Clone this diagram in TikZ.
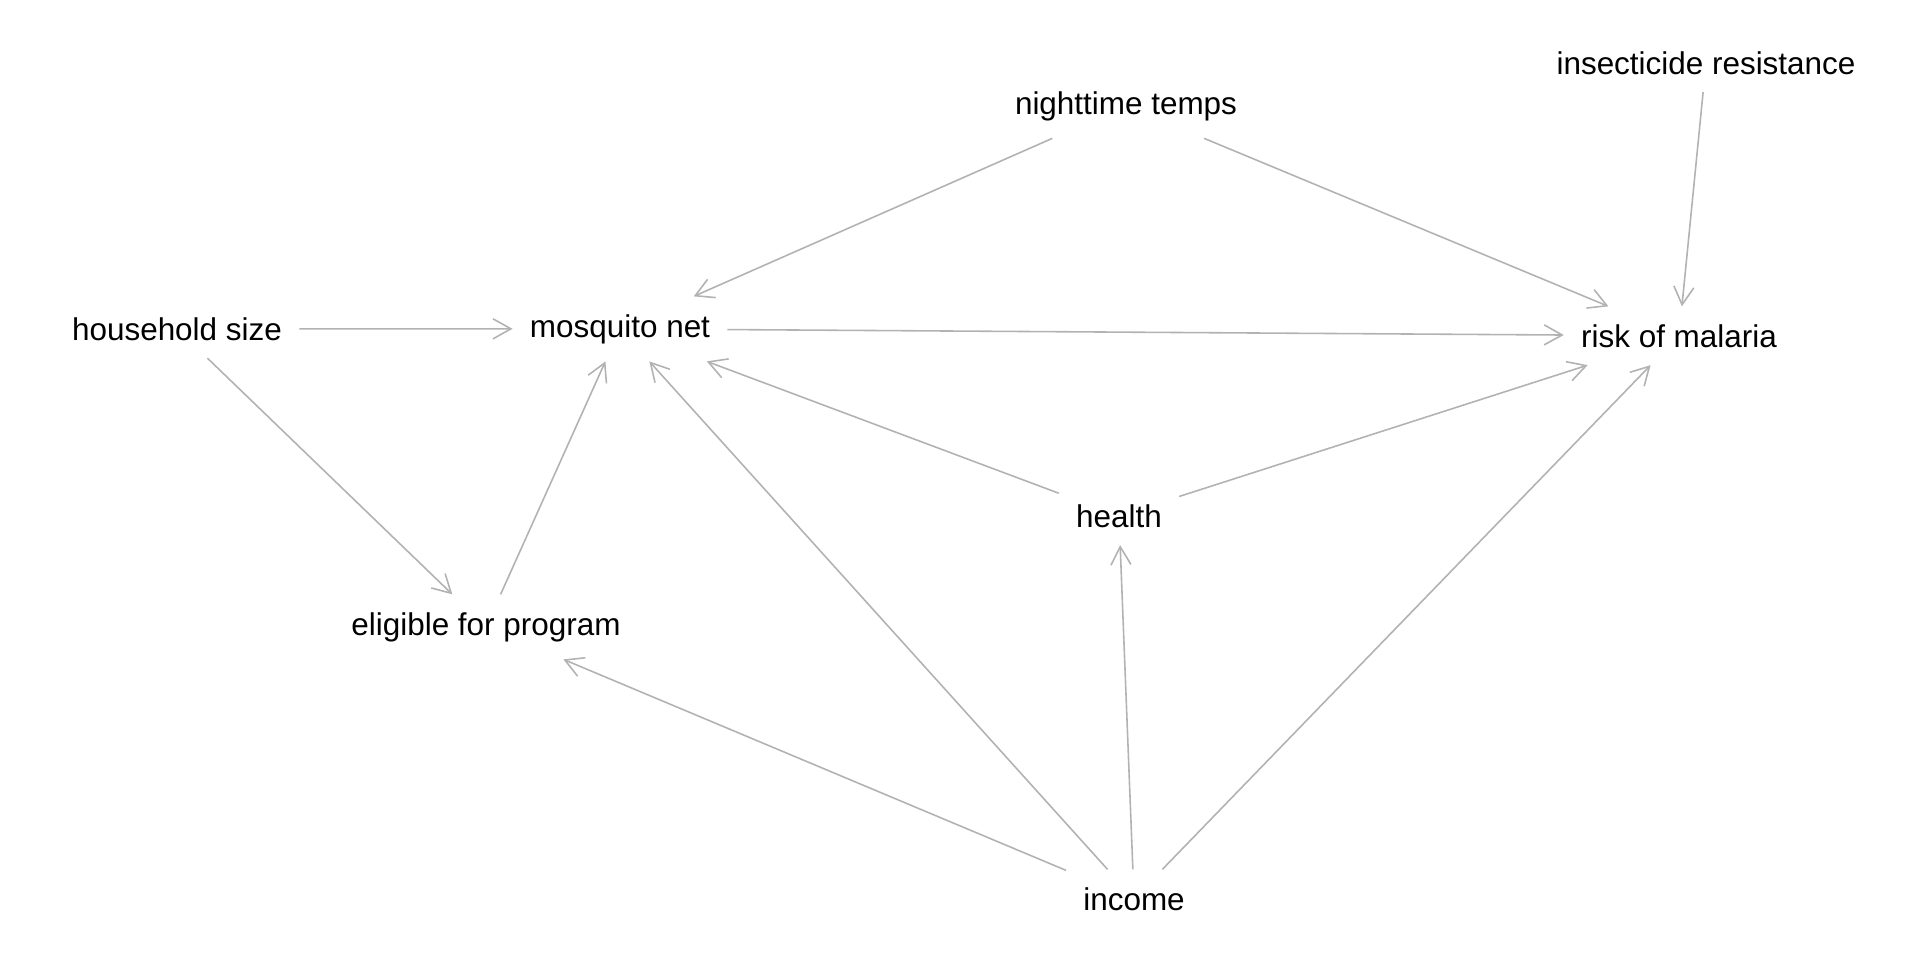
\documentclass[tikz,border=0pt]{standalone}
\usepackage{fontspec}
\setmainfont{Liberation Sans}
\usetikzlibrary{arrows.meta}

\begin{document}
\begin{tikzpicture}[x=0.02cm, y=-0.02cm,
		var/.style={font=\fontsize{17.9}{21}\selectfont, anchor=base, inner xsep=0.34cm, inner ysep=0.35cm},
		dep/.style={-{Straight Barb[length=0.36cm, width=0.4cm]}, draw=black!30, line width=0.9pt}]
		\useasboundingbox (0,0) rectangle (1920,960);
		
		\node [var] (ins) at (1706, 74) {insecticide resistance};
		\node [var] (temps) at (1126, 114) {nighttime temps};
		\node [var] (hh) at (177, 340) {household size};
		\node [var] (net) at (620, 337) {mosquito net};
		\node [var] (risk) at (1679, 347) {risk of malaria};
		\node [var] (health) at (1119, 527) {health};
		\node [var] (elig) at (486, 635) {eligible for program};
		\node [var] (inc) at (1134, 910) {income};
		
		\draw [dep] (temps) -- (net);
		\draw [dep] (temps) -- (risk);
		\draw [dep] (ins) -- (risk);
		\draw [dep] (hh) -- (net);
		\draw [dep] (hh) -- (elig);
		\draw [dep] (elig) -- (net);
		\draw [dep] (net) -- (risk);
		\draw [dep] (health) -- (net);
		\draw [dep] (health) -- (risk);
		\draw [dep] (inc) -- (elig);
		\draw [dep] (inc) -- (net);
		\draw [dep] (inc) -- (health);
		\draw [dep] (inc) -- (risk);
		
		\end{tikzpicture}
\end{document}
